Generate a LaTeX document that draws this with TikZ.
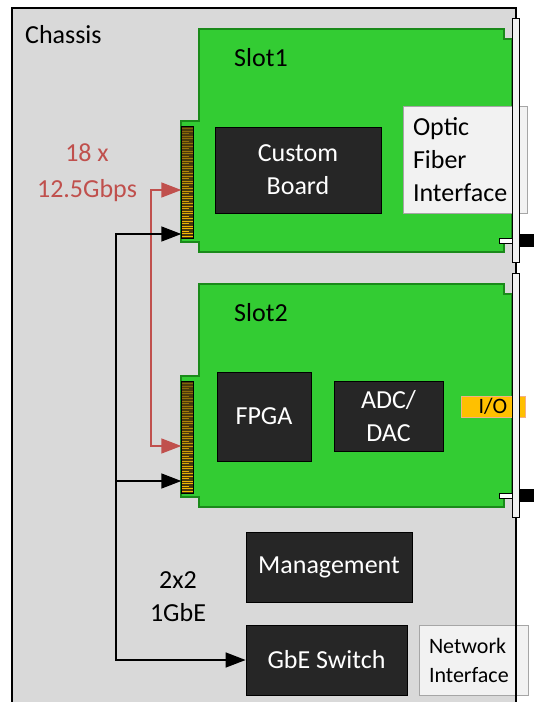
\documentclass[tikz,border=0pt]{standalone}
\usepackage{fontspec}
\setmainfont{Carlito}
\usetikzlibrary{arrows.meta,positioning,calc}

\definecolor{chassisgrey}{HTML}{D9D9D9}
\definecolor{boardgreen}{HTML}{33CC33}
\definecolor{boardedge}{HTML}{1A8A1A}
\definecolor{chipdark}{HTML}{262626}
\definecolor{panelfill}{HTML}{F2F2F2}
\definecolor{paneledge}{HTML}{A6A6A6}
\definecolor{iofill}{HTML}{FFC000}
\definecolor{ioedge}{HTML}{F4B084}
\definecolor{linkred}{HTML}{C0504D}
\definecolor{pingold}{HTML}{FFC000}
\definecolor{pinbrown}{HTML}{4A3A0C}

\newcommand{\boxfont}{\fontsize{26}{33}\selectfont}
\newcommand{\notefont}{\fontsize{22}{29}\selectfont}

\tikzstyle{board}=[draw=boardedge, fill=boardgreen, line width=1.2pt, line join=miter]
\tikzstyle{goldconn}=[draw=black, fill=pinbrown, minimum width=12pt, minimum height=112pt,
    inner sep=0pt, path picture={
        \foreach \i [evaluate=\i as \len using {mod(\i,3)==0 ? 7 : 11},
                     evaluate=\i as \shade using {int(30+\i*1.5)}] in {1,...,44}
            \draw[pingold!\shade!pinbrown, line width=0.9pt]
                ([yshift=-\i*2.5pt]path picture bounding box.north west) -- ++(\len,0);
}]
\tikzstyle{chip}=[draw=black, fill=chipdark, text=white, inner sep=0pt, align=center,
    line width=0.8pt, font=\boxfont]
\tikzstyle{panel}=[draw=paneledge, fill=panelfill, inner ysep=0pt, inner xsep=10pt,
    align=left, line width=0.8pt]
\tikzstyle{rail}=[draw=black, fill=panelfill, line width=0.9pt]
\tikzstyle{latch}=[draw=black, fill=white, line width=0.9pt]
\tikzstyle{fastlink}=[<->, draw=linkred, line width=1.5pt]
\tikzstyle{gbelink}=[draw=black, line width=1.5pt]

% one plug-in card: #1 index, #2 top edge, #3 label
\newcommand{\slotcard}[3]{%
    \begin{scope}[shift={(0,#2)}]
        \draw[board] (199,0) -- (504,0) -- (504,10) -- (512,10) -- (512,214)
            -- (504,214) -- (504,223) -- (199,223) -- (199,213) -- (181,213)
            -- (181,92) -- (199,92) -- cycle;
        \node[goldconn] (conn#1) at (187.5,153) {};
        \node[anchor=base west, inner sep=0pt, font=\boxfont] (slot#1) at (234,37.5) {#3};
    \end{scope}}

\begin{document}
\begin{tikzpicture}[x=1pt, y=-1pt, >={Triangle[length=20pt,width=15pt]}]
    \useasboundingbox (0,0) rectangle (534,702);
    \fill[chassisgrey] (12,8) rectangle (516,702);

    \slotcard{1}{29}{Slot1}
    \slotcard{2}{284}{Slot2}

    % front panel parts
    \node[panel, font=\boxfont, text width=104pt, minimum height=107pt] (optic) at (465,159.5) {Optic\\Fiber\\Interface};
    \node[draw=ioedge, fill=iofill, minimum width=64pt, minimum height=21pt, inner sep=0pt,
        font=\notefont] (io) at (493,406.5) {I/O};
    \node[panel, font=\notefont, text width=89pt, minimum height=70pt] (net) at (473.5,660) {Network\\Interface};

    \node[anchor=base west, inner sep=0pt, font=\boxfont] (chassis) at (25,43) {Chassis};
    \draw[line width=1.8pt] (12,702) -- (12,8) -- (516,8) -- (516,702);

    \foreach \top in {29,284} {
        \draw[latch] (499,\top+209) rectangle (513,\top+214);
        \draw[rail] (512,\top-11) rectangle (519,\top+233);
        \fill (519,\top+205) rectangle (534,\top+218);
    }

    % chips
    \node[chip, minimum width=166pt, minimum height=86pt] (custom) at (298,170) {Custom\\Board};
    \node[chip, minimum width=94pt, minimum height=89pt] (fpga) at (264,416.5) {FPGA};
    \node[chip, minimum width=109pt, minimum height=70pt] (adc) at (388.5,416) {ADC/\\DAC};
    \node[chip, minimum width=166pt, minimum height=70pt] (mgmt) at (329,567) {Management};
    \node[chip, minimum width=161pt, minimum height=70pt] (gbe) at (326.5,660) {GbE Switch};

    % links
    \node[text=linkred, align=center, inner sep=0pt, font=\fontsize{26}{36}\selectfont] (rate) at (87,173) {18 x\\12.5Gbps};
    \node[align=center, inner sep=0pt, font=\boxfont] (lanes) at (178,596.5) {2x2\\1GbE};

    \coordinate (bus) at (116,0);
    \draw[fastlink] ([yshift=-8pt]conn1.west) -- ++(-30.5,0) |- ([yshift=-9pt]conn2.west);
    \draw[gbelink, <->] ([yshift=-52pt]conn1.west) -| (bus |- gbe.west) -- (gbe.west);
    \coordinate (tap2) at ([yshift=-44pt]conn2.west);
    \draw[gbelink, ->] (tap2 -| bus) -- (tap2);
\end{tikzpicture}
\end{document}
